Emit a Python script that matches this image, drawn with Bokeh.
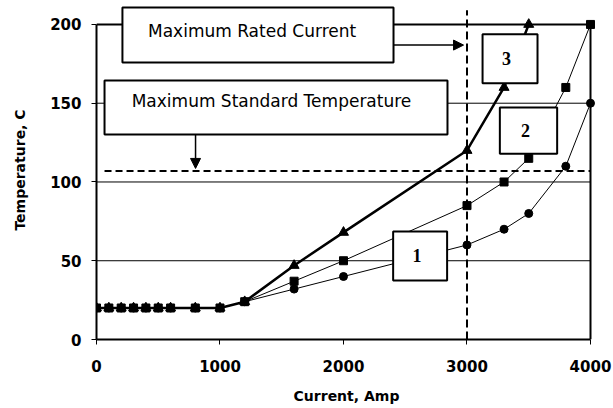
from bokeh.plotting import figure
from bokeh.models import Range1d, FixedTicker, Arrow, NormalHead
from bokeh.core.properties import value
from bokeh.embed import file_html
from bokeh.resources import INLINE

# ---- data ----
current_12 = [0, 100, 200, 300, 400, 500, 600, 800, 1000, 1200, 1600, 2000, 3000, 3300, 3500, 3800, 4000]
temp_1 = [20, 20, 20, 20, 20, 20, 20, 20, 20, 24, 32, 40, 60, 70, 80, 110, 150]
temp_2 = [20, 20, 20, 20, 20, 20, 20, 20, 20, 24, 37, 50, 85, 100, 115, 160, 200]
current_3 = [0, 100, 200, 300, 400, 500, 600, 800, 1000, 1200, 1600, 2000, 3000, 3300, 3500]
temp_3 = [20, 20, 20, 20, 20, 20, 20, 20, 20, 24, 47, 68, 120, 160, 200]

x_ticks = [0, 1000, 2000, 3000, 4000]
y_ticks = [0, 50, 100, 150, 200]
grid_ticks = [50, 100, 150]
max_rated_current = 3000
max_standard_temp = 107
x_max = 4000
y_max = 200

p = figure(width=613, height=408,
           x_range=Range1d(0, 4048.6), y_range=Range1d(0, 215.2),
           output_backend="svg", toolbar_location=None,
           min_border_left=96, min_border_right=17, min_border_top=0, min_border_bottom=69)
p.outline_line_color = None
p.xgrid.visible = False
p.ygrid.visible = False
p.background_fill_color = "white"

# axes
for ax in (p.xaxis, p.yaxis):
    ax.axis_line_width = 2
    ax.axis_line_color = "black"
    ax.major_tick_in = 0
    ax.major_tick_out = 5
    ax.major_tick_line_color = "black"
    ax.minor_tick_line_color = None
    ax.major_label_text_font = "DejaVu Sans"
    ax.major_label_text_font_style = "bold"
    ax.major_label_text_font_size = "15px"
    ax.major_label_text_color = "black"
    ax.axis_label_text_font = "DejaVu Sans"
    ax.axis_label_text_font_style = "bold"
    ax.axis_label_text_font_size = "14px"
    ax.axis_label_text_color = "black"
p.xaxis.ticker = FixedTicker(ticks=x_ticks)
p.yaxis.ticker = FixedTicker(ticks=y_ticks)
p.xaxis.bounds = (0, x_max)
p.yaxis.bounds = (0, y_max)
p.xaxis.axis_label = "Current, Amp"
p.yaxis.axis_label = "Temperature, C"
p.xaxis.major_label_standoff = 15
p.yaxis.major_label_standoff = 10
p.xaxis.axis_label_standoff = 13
p.yaxis.axis_label_standoff = 19

# grid lines and border
p.segment(x0=[0] * len(grid_ticks), x1=[x_max] * len(grid_ticks), y0=grid_ticks, y1=grid_ticks,
          line_color="black", line_width=1)
p.segment(x0=[0, x_max], x1=[x_max, x_max], y0=[y_max, 0], y1=[y_max, y_max],
          line_color="black", line_width=2)

# reference dashed lines
p.segment(x0=[65], x1=[x_max], y0=[max_standard_temp], y1=[max_standard_temp],
          line_color="black", line_width=2, line_dash="7 4")
p.segment(x0=[max_rated_current], x1=[max_rated_current], y0=[0], y1=[209],
          line_color="black", line_width=2, line_dash="8 4")

# series
p.line(current_12, temp_1, line_color="black", line_width=1)
p.scatter(current_12, temp_1, marker="circle", size=8, color="black")
p.line(current_12, temp_2, line_color="black", line_width=1)
p.scatter(current_12, temp_2, marker="square", size=8, color="black")
p.line(current_3, temp_3, line_color="black", line_width=2.5)
p.scatter(current_3, temp_3, marker="triangle", size=10, color="black")

# boxes
p.quad(left=[210, 65, 3126, 3266, 2402], right=[2405, 2842, 3571, 3730, 2839],
       top=[210.8, 164.4, 193.7, 147.3, 68.6], bottom=[175.9, 130.2, 162.7, 117.9, 37.5],
       fill_color="white", line_color="black", line_width=2)

p.text(x=[1260, 1417], y=[196, 151.7],
       text=["Maximum Rated Current", "Maximum Standard Temperature"],
       text_font=value("DejaVu Sans"), text_font_size="17px",
       text_align="center", text_baseline="middle", text_color="black")
p.text(x=[3320, 3474, 2596], y=[178.2, 132.7, 53.3], text=["3", "2", "1"],
       text_font=value("Liberation Serif"), text_font_style="bold", text_font_size="18px",
       text_align="center", text_baseline="middle", text_color="black")

p.add_layout(Arrow(end=NormalHead(size=10, fill_color="black", line_color="black"),
                   x_start=2405, y_start=186.9, x_end=2972, y_end=186.9,
                   line_color="black", line_width=1.5))
p.add_layout(Arrow(end=NormalHead(size=10, fill_color="black", line_color="black"),
                   x_start=802, y_start=130.2, x_end=802, y_end=108.6,
                   line_color="black", line_width=1.5))

open("out.html", "w").write(file_html(p, INLINE))
